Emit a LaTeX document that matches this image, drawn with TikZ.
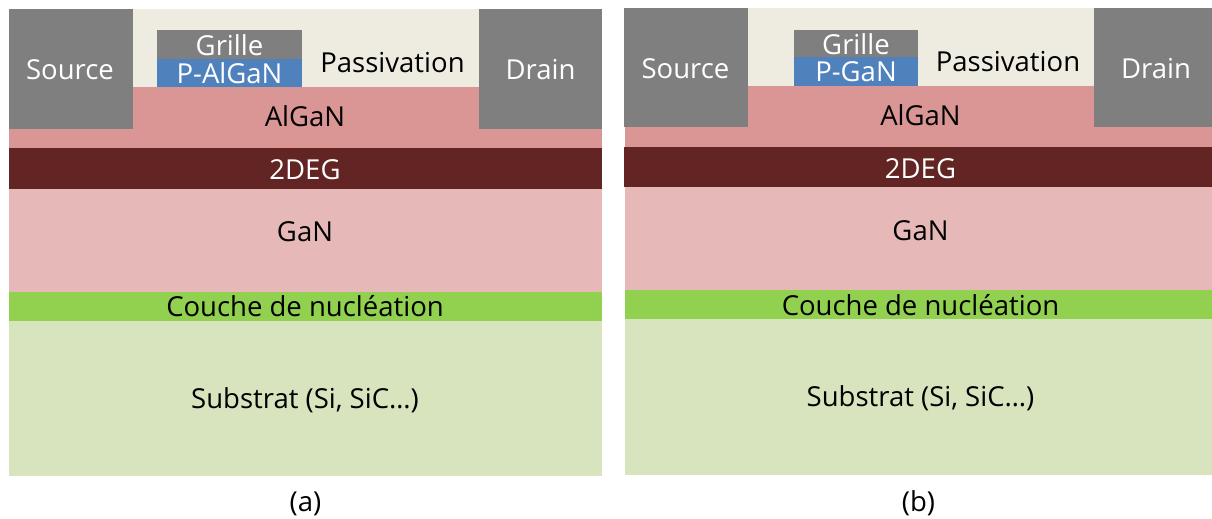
\documentclass[tikz,border=0pt]{standalone}
\usepackage{fontspec}
\setmainfont{Open Sans}
\usetikzlibrary{positioning}
\definecolor{contactgray}{HTML}{7F7F7F}
\definecolor{passiv}{HTML}{EEECE1}
\definecolor{pblue}{HTML}{4F81BD}
\definecolor{algan}{HTML}{D99694}
\definecolor{deg}{HTML}{632523}
\definecolor{gan}{HTML}{E6B9B8}
\definecolor{nucl}{HTML}{92D050}
\definecolor{subst}{HTML}{D7E4BD}

\begin{document}
\begin{tikzpicture}[x=1pt,y=1pt]
\tikzstyle{layer}=[rectangle, inner sep=0pt, outer sep=0pt, font=\fontsize{27.5}{27.5}\selectfont, node distance=0pt]
\tikzstyle{dark}=[layer, fill=contactgray, text=white]
\tikzstyle{word}=[inner sep=0pt, font=\fontsize{27.5}{27.5}\selectfont]
\useasboundingbox (0,0) rectangle (1212,-519);
  % panel a
  \node[layer, anchor=north west, fill=passiv, minimum width=347pt, minimum height=78pt] (passa) at (132.5,-9) {};
  \node[layer, anchor=north west, fill=algan, minimum width=593.5pt, minimum height=61pt] (algana) at (8.5,-87) {};
  \node[layer, fill=deg, minimum width=593.5pt, minimum height=40.5pt] (dega) [below=of algana] {};
  \node[layer, fill=gan, minimum width=593.5pt, minimum height=103.5pt] (gana) [below=of dega] {};
  \node[layer, fill=nucl, minimum width=593.5pt, minimum height=28.5pt] (nucla) [below=of gana] {};
  \node[layer, fill=subst, minimum width=593.5pt, minimum height=155.5pt] (suba) [below=of nucla] {};
  \node[dark, anchor=north west, minimum width=124pt, minimum height=119.5pt] (sourcea) at (8.5,-9) {};
  \node[dark, anchor=north west, minimum width=123pt, minimum height=119.5pt] (draina) at (479,-9) {};
  \node[layer, anchor=north west, fill=pblue, minimum width=145pt, minimum height=28pt] (pgatea) at (157,-59) {};
  \node[dark, minimum width=145pt, minimum height=29pt] (gatea) [above=of pgatea] {};
  \node[word, text=white] (labsourcea) at (70,-70) {Source};
  \node[word, text=white] (labdraina) at (540.5,-70) {Drain};
  \node[word, text=white] (labgatea) at (229.5,-45) {Grille};
  \node[word, text=white] (labpgatea) at (229.5,-73.5) {P-AlGaN};
  \node[word] (labpassa) at (392.5,-63) {Passivation};
  \node[word] (labalgana) at (305,-116) {AlGaN};
  \node[word, text=white] (labdega) at (305,-170) {2DEG};
  \node[word] (labgana) at (305,-232) {GaN};
  \node[word] (labnucla) at (305,-306) {Couche de nucléation};
  \node[word] (labsuba) at (305,-400) {Substrat (Si, SiC…)};
  \node[word] (capa) at (305.5,-504) {(a)};
  % panel b
  \node[layer, anchor=north west, fill=passiv, minimum width=346.5pt, minimum height=77.5pt] (passb) at (747.5,-8) {};
  \node[layer, anchor=north west, fill=algan, minimum width=587pt, minimum height=61pt] (alganb) at (625,-85.5) {};
  \node[layer, anchor=north west, fill=deg, minimum width=588.5pt, minimum height=40.5pt] (degb) at (623.5,-146.5) {};
  \node[layer, anchor=north west, fill=gan, minimum width=587pt, minimum height=103pt] (ganb) at (625,-187) {};
  \node[layer, fill=nucl, minimum width=587pt, minimum height=29pt] (nuclb) [below=of ganb] {};
  \node[layer, fill=subst, minimum width=587pt, minimum height=156pt] (subb) [below=of nuclb] {};
  \node[dark, anchor=north west, minimum width=124pt, minimum height=119pt] (sourceb) at (623.5,-8) {};
  \node[dark, anchor=north west, minimum width=118pt, minimum height=119pt] (drainb) at (1094,-8) {};
  \node[layer, anchor=north west, fill=pblue, minimum width=124pt, minimum height=28.5pt] (pgateb) at (794,-57) {};
  \node[dark, minimum width=124pt, minimum height=27pt] (gateb) [above=of pgateb] {};
  \node[word, text=white] (labsourceb) at (685.5,-68.5) {Source};
  \node[word, text=white] (labdrainb) at (1156,-68.5) {Drain};
  \node[word, text=white] (labgateb) at (856,-44) {Grille};
  \node[word, text=white] (labpgateb) at (856,-71.5) {P-GaN};
  \node[word] (labpassb) at (1008,-62) {Passivation};
  \node[word] (labalganb) at (920.5,-115) {AlGaN};
  \node[word, text=white] (labdegb) at (920.5,-168.5) {2DEG};
  \node[word] (labganb) at (920.5,-231) {GaN};
  \node[word] (labnuclb) at (920.5,-305) {Couche de nucléation};
  \node[word] (labsubb) at (920.5,-398.5) {Substrat (Si, SiC…)};
  \node[word] (capb) at (918.5,-503) {(b)};
\end{tikzpicture}
\end{document}
